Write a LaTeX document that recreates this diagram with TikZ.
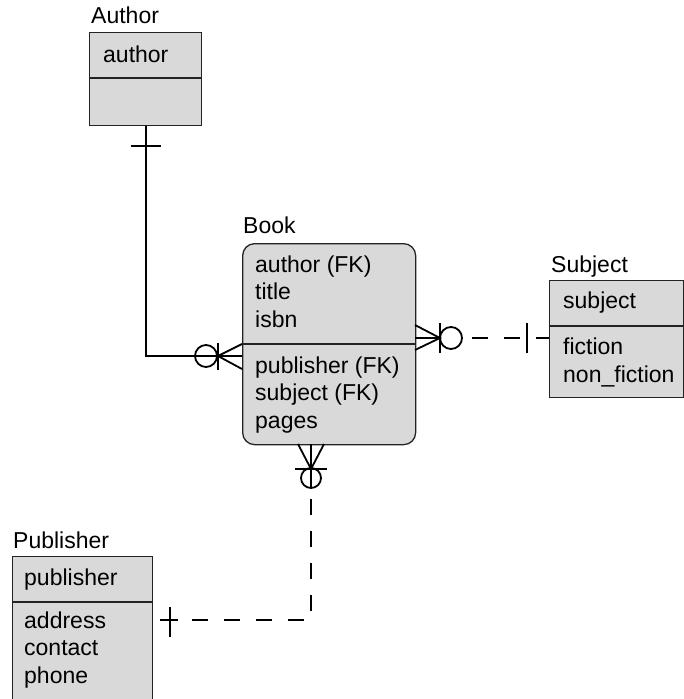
\documentclass[tikz,border=0pt]{standalone}
\usepackage{fontspec}
\setmainfont{Liberation Sans}
\usetikzlibrary{positioning,calc}

\definecolor{entgray}{RGB}{217,217,217}
\definecolor{entline}{RGB}{35,35,35}

\begin{document}
\begin{tikzpicture}[
    x=1pt, y=-1pt,
    ent/.style={draw=entline, fill=entgray, line width=1.3pt, rectangle, anchor=north west, inner sep=0pt},
    sep/.style={draw=entline, line width=1.3pt},
    txt/.style={anchor=base west, inner sep=0pt, align=left, font=\fontsize{23}{27.5}\selectfont},
    rel/.style={line width=1.8pt},
    dsh/.style={rel, dash pattern=on 16pt off 16pt}
]
\useasboundingbox (0,0) rectangle (684,699);

% entities
\node[ent, minimum width=112pt, minimum height=93pt] (author) at (89,32) {};
\node[ent, minimum width=173pt, minimum height=201pt, rounded corners=12pt] (book) at (242,243) {};
\node[ent, minimum width=134pt, minimum height=117pt] (subject) at (549,280) {};
\node[ent, minimum width=140pt, minimum height=170pt] (publisher) at (12,556) {};

\draw[sep] (author.north west) ++(0,46) -- ++(112,0);
\draw[sep] (book.north west) ++(0,101) -- ++(173,0);
\draw[sep] (subject.north west) ++(0,46) -- ++(134,0);
\draw[sep] (publisher.north west) ++(0,46) -- ++(140,0);

% titles
\node[txt] (tAuthor) at (91,23) {Author};
\node[txt] (tBook) at (243,233) {Book};
\node[txt] (tSubject) at (551,272) {Subject};
\node[txt] (tPublisher) at (13,548) {Publisher};

% attributes (base = last line)
\node[txt] (authorK) at (103,62) {author};
\node[txt] (bookK) at (255,327) {author (FK)\\title\\isbn};
\node[txt] (bookA) at (255,428) {publisher (FK)\\subject (FK)\\pages};
\node[txt] (subjectK) at (563,308) {subject};
\node[txt] (subjectA) at (563,382) {fiction\\non\_fiction};
\node[txt] (publisherK) at (24,585) {publisher};
\node[txt] (publisherA) at (24,683) {address\\contact\\phone};

% connector ends
\coordinate (bkL) at (242,356);
\coordinate (bkR) at (415,338);
\coordinate (bkB) at (311,444);
\coordinate (sbL) at (549,338);
\coordinate (pbR) at (160,620);

% Author -- Book
\draw[rel] (author.south) |- (bkL);
\draw[rel] (author.south) ++(-15,20) -- ++(30,0);
\draw[rel] ($(bkL)+(-36,0)$) circle (11pt);
\draw[rel] ($(bkL)+(-24,-13)$) -- ++(0,27);
\draw[rel] ($(bkL)+(0,-12)$) -- ($(bkL)+(-24,0)$) -- ($(bkL)+(0,13)$);

% Book -- Subject
\draw[rel] (bkR) -- ++(25,0);
\draw[rel] ($(bkR)+(0,-13)$) -- ($(bkR)+(25,0)$) -- ($(bkR)+(0,12)$);
\draw[rel] ($(bkR)+(25,-15)$) -- ++(0,30);
\draw[rel] ($(bkR)+(36,0)$) circle (11pt);
\draw[dsh, dash phase=22pt] ($(bkR)+(47,0)$) -- (sbL);
\draw[rel] ($(sbL)+(-22,-15)$) -- ++(0,30);

% Book -- Publisher
\draw[rel] (bkB) -- ++(0,43);
\draw[rel] ($(bkB)+(-13,0)$) -- ($(bkB)+(0,25)$) -- ($(bkB)+(13,0)$);
\draw[rel] ($(bkB)+(-16,25)$) -- ++(32,0);
\draw[rel] ($(bkB)+(0,34)$) circle (10pt);
\draw[dsh, dash phase=18pt] ($(pbR)+(18,0)$) -| ($(bkB)+(0,44)$);
\draw[rel] (pbR) -- ++(18,0);
\draw[rel] ($(pbR)+(10,-13)$) -- ++(0,30);
\end{tikzpicture}
\end{document}
